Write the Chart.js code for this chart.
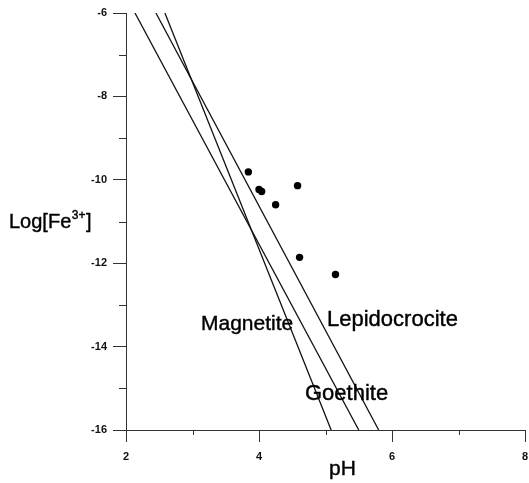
<!DOCTYPE html>
<html>
<head>
<meta charset="utf-8">
<script src="https://cdn.jsdelivr.net/npm/chart.js@4.4.1/dist/chart.umd.min.js"></script>
<style>
html, body { margin: 0; padding: 0; background: #fff; }
#wrap { width: 529px; height: 483px; }
</style>
</head>
<body>
<div id="wrap"><canvas id="chart" width="529" height="483"></canvas></div>
<script>
// Stability lines: pH at both ends, log[Fe3+] at both ends
const goethitePH = [2.135, 5.50];
const goethiteLog = [-6, -16];
const lepidoPH = [2.45, 5.80];
const lepidoLog = [-6, -16];
const magnetitePH = [2.585, 5.085];
const magnetiteLog = [-6, -16];

// Measured samples
const samplePH = [3.84, 4.00, 4.04, 4.58, 4.25, 4.61, 5.15];
const sampleLog = [-9.81, -10.23, -10.28, -10.14, -10.60, -11.86, -12.27];

// Axis ticks
const xTicks = [2, 4, 6, 8];
const xMinor = [3, 5, 7];
const yTicks = [-6, -8, -10, -12, -14, -16];
const yMinor = [-7, -9, -11, -13, -15];

const toPoints = (xs, ys) => xs.map((x, i) => ({ x: x, y: ys[i] }));

function lineSet(label, xs, ys) {
    return {
        type: 'line',
        label: label,
        data: toPoints(xs, ys),
        borderColor: '#111',
        borderWidth: 1.3,
        pointRadius: 0,
        fill: false,
        tension: 0
    };
}

// draw text a little heavier, like the scanned print
function heavyText(ctx, text, x, y) {
    ctx.fillText(text, x, y);
    ctx.strokeText(text, x, y);
}

// minor ticks, axis titles and phase labels
const extras = {
    id: 'extras',
    afterDraw(chart) {
        const ctx = chart.ctx;
        const xs = chart.scales.x;
        const ys = chart.scales.y;
        ctx.save();
        ctx.strokeStyle = '#333';
        ctx.lineWidth = 1;
        ctx.beginPath();
        xMinor.forEach(v => {
            const px = Math.round(xs.getPixelForValue(v)) + 0.5;
            ctx.moveTo(px, ys.bottom);
            ctx.lineTo(px, ys.bottom + 5);
        });
        yMinor.forEach(v => {
            const py = Math.round(ys.getPixelForValue(v)) + 0.5;
            ctx.moveTo(xs.left, py);
            ctx.lineTo(xs.left - 7, py);
        });
        ctx.stroke();

        ctx.fillStyle = '#000';
        ctx.strokeStyle = '#000';
        ctx.lineWidth = 0.4;
        ctx.textBaseline = 'alphabetic';
        ctx.textAlign = 'left';

        // y title Log[Fe3+]
        ctx.font = '20px "Liberation Sans", Arial, sans-serif';
        let x = 9;
        heavyText(ctx, 'Log[Fe', x, 228);
        x += ctx.measureText('Log[Fe').width;
        ctx.font = '12px "Liberation Sans", Arial, sans-serif';
        heavyText(ctx, '3+', x + 0.5, 219);
        x += ctx.measureText('3+').width + 1;
        ctx.font = '20px "Liberation Sans", Arial, sans-serif';
        heavyText(ctx, ']', x, 228);

        // x title
        ctx.font = '21px "Liberation Sans", Arial, sans-serif';
        heavyText(ctx, 'pH', 329, 475);

        // phase labels
        ctx.font = '21px "Liberation Sans", Arial, sans-serif';
        heavyText(ctx, 'Magnetite', 201, 330);
        ctx.font = '22px "Liberation Sans", Arial, sans-serif';
        heavyText(ctx, 'Lepidocrocite', 327, 326);
        heavyText(ctx, 'Goethite', 305, 400);
        ctx.restore();
    }
};

const tickFont = { family: '"Liberation Sans", Arial, sans-serif', size: 11, weight: 'bold' };

new Chart(document.getElementById('chart'), {
    type: 'scatter',
    data: {
        datasets: [
            lineSet('Goethite', goethitePH, goethiteLog),
            lineSet('Lepidocrocite', lepidoPH, lepidoLog),
            lineSet('Magnetite', magnetitePH, magnetiteLog),
            {
                label: 'Samples',
                data: toPoints(samplePH, sampleLog),
                backgroundColor: '#000',
                borderColor: '#000',
                pointRadius: 3.7,
                borderWidth: 0
            }
        ]
    },
    options: {
        responsive: false,
        animation: false,
        devicePixelRatio: 1,
        layout: { padding: { top: 13, right: 2, left: 0, bottom: 0 } },
        plugins: {
            legend: { display: false },
            tooltip: { enabled: false }
        },
        scales: {
            x: {
                type: 'linear',
                min: 2,
                max: 8,
                afterBuildTicks: s => { s.ticks = xTicks.map(v => ({ value: v })); },
                afterFit: s => { s.height = 53; s.paddingLeft = 0; s.paddingRight = 0; },
                grid: { drawOnChartArea: false, tickLength: 12, color: '#333' },
                border: { display: true, color: '#333', width: 1 },
                ticks: { font: tickFont, color: '#111', padding: 8, maxRotation: 0 }
            },
            y: {
                type: 'linear',
                min: -16,
                max: -6,
                afterBuildTicks: s => { s.ticks = yTicks.map(v => ({ value: v })); },
                afterFit: s => { s.width = 126; s.paddingTop = 0; s.paddingBottom = 0; },
                grid: { drawOnChartArea: false, tickLength: 13, color: '#333' },
                border: { display: true, color: '#333', width: 1 },
                ticks: { font: tickFont, color: '#111', padding: 6 }
            }
        }
    },
    plugins: [extras]
});
</script>
</body>
</html>
